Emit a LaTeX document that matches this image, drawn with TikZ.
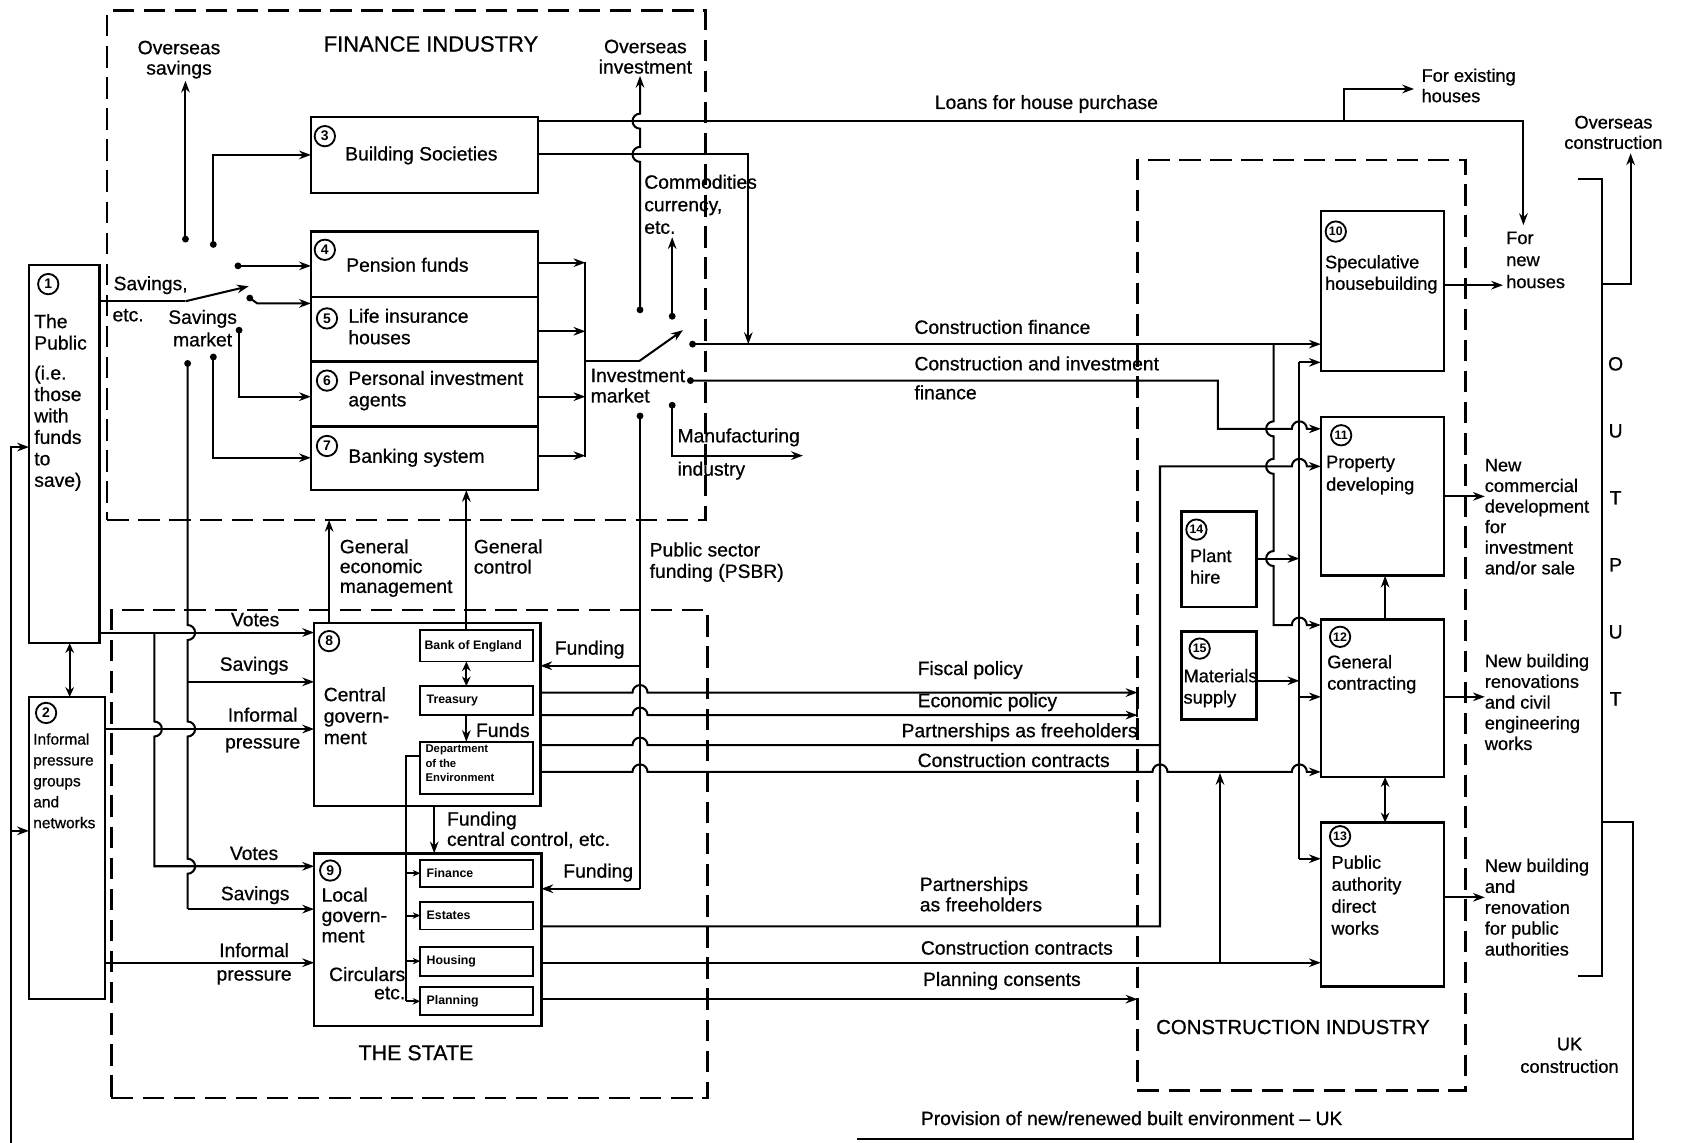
\documentclass[tikz,border=0pt]{standalone}
\usepackage{fontspec}
\setmainfont{Liberation Sans}[UprightFeatures={FakeBold=0.7}]
\usetikzlibrary{arrows.meta}
\begin{document}
\begin{tikzpicture}[x=1pt,y=-1pt,
  every node/.style={inner sep=0pt,outer sep=0pt,font=\fontsize{18}{20}\selectfont},
  box/.style={draw,line width=2.3pt,anchor=north west},
  dbox/.style={draw,line width=2.3pt,dash pattern=on 20pt off 9pt,anchor=north west},
  ibox/.style={draw,line width=1.8pt,anchor=north west,minimum width=105pt},
  conn/.style={line width=1.9pt},
  arr/.style={line width=1.9pt,-{Stealth[length=11pt,width=8pt]}},
  sarr/.style={line width=1.8pt,-{Stealth[length=7pt,width=6pt]}},
  darr/.style={line width=1.9pt,{Stealth[length=9pt,width=8pt]}-{Stealth[length=9pt,width=8pt]}},
  num/.style={circle,draw,line width=1.7pt,minimum size=19pt,font=\fontsize{13}{13}\selectfont\bfseries},
  lab/.style={anchor=west},
  mlab/.style={anchor=north west,align=left},
  clab/.style={anchor=north,align=center},
  tinyb/.style={anchor=west,font=\fontsize{11.5}{13}\selectfont\bfseries},
  boxtxt/.style={anchor=north west,align=left,font=\fontsize{17}{20}\selectfont},
]
\fill[white] (0,0) rectangle (1568,1066);
\useasboundingbox (0,0) rectangle (1568,1066);

% ---------- dashed frames ----------
\node[dbox,minimum width=558pt,minimum height=475pt] (fin) at (100,10) {};
\node[dbox,minimum width=556pt,minimum height=455pt] (sta) at (104,569) {};
\node[dbox,minimum width=306pt,minimum height=868pt] (con) at (1061,149) {};
\node[font=\fontsize{20.5}{22}\selectfont] (tfin) at (402,41) {FINANCE INDUSTRY};
\node[font=\fontsize{20}{22}\selectfont] (tsta) at (388,982) {THE STATE};
\node[font=\fontsize{19}{22}\selectfont] (tcon) at (1206,958) {CONSTRUCTION INDUSTRY};

% ---------- boxes ----------
\node[box,minimum width=66pt,minimum height=353pt] (b1) at (27,247) {};
\node[box,minimum width=71pt,minimum height=282pt] (b2) at (27,650) {};
\node[box,minimum width=212pt,minimum height=71pt] (b3) at (290,109) {};
\node[box,minimum width=212pt,minimum height=61pt] (b4) at (290,216) {};
\node[box,minimum width=212pt,minimum height=60pt] (b5) at (290,277) {};
\node[box,minimum width=212pt,minimum height=61pt] (b6) at (290,337) {};
\node[box,minimum width=212pt,minimum height=59pt] (b7) at (290,398) {};
\node[box,minimum width=211pt,minimum height=171pt] (b8) at (293,581) {};
\node[ibox,minimum height=29pt] (boe) at (392,588) {};
\node[ibox,minimum height=27pt] (tre) at (392,640) {};
\node[ibox,minimum height=49pt] (doe) at (392,692) {};
\node[box,minimum width=212pt,minimum height=161pt] (b9) at (293,796) {};
\node[ibox,minimum height=25pt] (fnc) at (392,802) {};
\node[ibox,minimum height=26pt] (est) at (392,841) {};
\node[ibox,minimum height=27pt] (hou) at (392,883) {};
\node[ibox,minimum height=26pt] (pla) at (392,921) {};
\node[box,minimum width=115pt,minimum height=149pt] (b10) at (1232,197) {};
\node[box,minimum width=115pt,minimum height=148pt] (b11) at (1232,389) {};
\node[box,minimum width=115pt,minimum height=147pt] (b12) at (1232,578) {};
\node[box,minimum width=115pt,minimum height=153pt] (b13) at (1232,767) {};
\node[box,minimum width=70pt,minimum height=89pt] (b14) at (1102,477) {};
\node[box,minimum width=70pt,minimum height=82pt] (b15) at (1102,589) {};

% ---------- numbers ----------
\node[num] (n1) at (45,265) {1};
\node[num] (n2) at (43,665) {2};
\node[num] (n3) at (303,127) {3};
\node[num] (n4) at (303,233) {4};
\node[num] (n5) at (305,297) {5};
\node[num] (n6) at (305,355) {6};
\node[num] (n7) at (305,416) {7};
\node[num] (n8) at (307,598) {8};
\node[num] (n9) at (308,812) {9};
\node[num,font=\fontsize{11.5}{12}\selectfont\bfseries] (n10) at (1246,216) {10};
\node[num,font=\fontsize{11.5}{12}\selectfont\bfseries] (n11) at (1251,406) {11};
\node[num,font=\fontsize{11.5}{12}\selectfont\bfseries] (n12) at (1250,594) {12};
\node[num,font=\fontsize{11.5}{12}\selectfont\bfseries] (n13) at (1250,780) {13};
\node[num,font=\fontsize{11.5}{12}\selectfont\bfseries] (n14) at (1116,494) {14};
\node[num,font=\fontsize{11.5}{12}\selectfont\bfseries] (n15) at (1119,605) {15};

% ---------- box texts ----------
\node[mlab] (tb1) at (32,293) {The\\Public\\[8pt](i.e.\\those\\with\\funds\\to\\save)};
\node[mlab,font=\fontsize{14.5}{19.5}\selectfont] (tb2) at (31,684) {Informal\\pressure\\groups\\and\\networks};
\node[lab] (tb3) at (322,145) {Building Societies};
\node[lab] (tb4) at (323,247) {Pension funds};
\node[mlab] (tb5) at (325,288) {Life insurance\\houses};
\node[mlab] (tb6) at (325,346) {Personal investment\\agents};
\node[lab] (tb7) at (325,427) {Banking system};
\node[mlab] (tb8) at (302,641) {Central\\govern-\\ment};
\node[mlab,font=\fontsize{18}{19}\selectfont] (tb9) at (300,828) {Local\\govern-\\ment};
\node[tinyb] (tboe) at (396,602.5) {Bank of England};
\node[tinyb] (ttre) at (398,653.5) {Treasury};
\node[anchor=north west,align=left,font=\fontsize{10.5}{13.5}\selectfont\bfseries] (tdoe) at (397,695) {Department\\of the\\Environment};
\node[tinyb] (tfnc) at (398,814.5) {Finance};
\node[tinyb] (test) at (398,854) {Estates};
\node[tinyb] (thou) at (398,896.5) {Housing};
\node[tinyb] (tpla) at (398,934) {Planning};
\node[anchor=north east,align=right,font=\fontsize{18}{17}\selectfont] (tcirc) at (378,902) {Circulars\\etc.};
\node[boxtxt] (tb10) at (1236,238) {Speculative\\housebuilding};
\node[boxtxt,font=\fontsize{17}{21}\selectfont] (tb11) at (1237,425) {Property\\developing};
\node[boxtxt] (tb12) at (1238,611) {General\\contracting};
\node[boxtxt,font=\fontsize{17}{20.5}\selectfont] (tb13) at (1242,798) {Public\\authority\\direct\\works};
\node[boxtxt] (tb14) at (1110,512) {Plant\\hire};
\node[boxtxt] (tb15) at (1104,624) {Materials\\supply};

% ---------- labels ----------
\node[clab,font=\fontsize{18}{19}\selectfont] (tos) at (167,38) {Overseas\\savings};
\node[clab,font=\fontsize{18}{19}\selectfont] (toi) at (602,37) {Overseas\\investment};
\node[mlab,font=\fontsize{18}{21}\selectfont] (tco) at (601,163) {Commodities\\currency,\\etc.};
\node[lab] (tsv) at (106,266) {Savings,};
\node[lab] (tetc) at (105,294) {etc.};
\node[clab,font=\fontsize{18}{21}\selectfont] (tsm) at (189,289) {Savings\\market};
\node[mlab,font=\fontsize{18}{19}\selectfont] (tim) at (551,344) {Investment\\market};
\node[lab] (tma) at (632,408) {Manufacturing};
\node[lab] (tind) at (632,439) {industry};
\node[mlab] (tps) at (606,506) {Public sector\\funding (PSBR)};
\node[mlab,font=\fontsize{18}{18.5}\selectfont] (tgem) at (317,503) {General\\economic\\management};
\node[mlab,font=\fontsize{18}{19}\selectfont] (tgc) at (442,503) {General\\control};
\node (tvo1) at (238,578) {Votes};
\node (tsa1) at (237,621) {Savings};
\node[align=center,font=\fontsize{18}{25}\selectfont] (tin1) at (245,681) {Informal\\pressure};
\node (tvo2) at (237,796) {Votes};
\node (tsa2) at (238,835) {Savings};
\node[align=center,font=\fontsize{18}{22}\selectfont] (tin2) at (237,899) {Informal\\pressure};
\node[lab] (tfu) at (444,681) {Funds};
\node (tfd1) at (550,606) {Funding};
\node (tfd2) at (558,814) {Funding};
\node[mlab,font=\fontsize{18}{19}\selectfont] (tfcc) at (417,757) {Funding\\central control, etc.};
\node[lab] (tlo) at (872,97) {Loans for house purchase};
\node[lab] (tcf) at (853,305) {Construction finance};
\node[lab] (tci1) at (853,339) {Construction and investment};
\node[lab] (tci2) at (853,366) {finance};
\node[lab] (tfi) at (856,625) {Fiscal policy};
\node[lab] (tec) at (856,655) {Economic policy};
\node[lab] (tpf) at (841,683) {Partnerships as freeholders};
\node[lab] (tcc) at (856,709) {Construction contracts};
\node[mlab,font=\fontsize{18}{19}\selectfont] (tpf2) at (858,818) {Partnerships\\as freeholders};
\node[lab] (tcc2) at (859,884) {Construction contracts};
\node[lab] (tpc) at (861,915) {Planning consents};
\node[mlab,font=\fontsize{17}{19}\selectfont] (tfe) at (1326,64) {For existing\\houses};
\node[mlab,font=\fontsize{17}{20.5}\selectfont] (tnh) at (1405,216) {For\\new\\houses};
\node[clab,font=\fontsize{17}{19}\selectfont] (toc) at (1505,108) {Overseas\\construction};
\node[clab,font=\fontsize{18}{62.5}\selectfont] (tout) at (1507,333) {O\\U\\T\\P\\U\\T};
\node[mlab,font=\fontsize{17}{19.2}\selectfont] (tnc) at (1385,428) {New\\commercial\\development\\for\\investment\\and/or sale};
\node[mlab,font=\fontsize{17}{19.3}\selectfont] (tnb) at (1385,610) {New building\\renovations\\and civil\\engineering\\works};
\node[mlab,font=\fontsize{17}{19.5}\selectfont] (tnp) at (1385,801) {New building\\and\\renovation\\for public\\authorities};
\node[clab,font=\fontsize{17}{21}\selectfont] (tuk) at (1464,968) {UK\\construction};
\node[lab] (tpr) at (859,1043) {Provision of new/renewed built environment -- UK};

% ---------- switch contacts (dots) ----------
\coordinate (sp) at (173,281);
\coordinate (dos) at (173,223);
\coordinate (dbs) at (199,228);
\coordinate (dpf) at (222,248);
\coordinate (dli) at (233,278);
\coordinate (dpi) at (223,308);
\coordinate (dbk) at (199,333);
\coordinate (dst) at (175,339);
\coordinate (piv) at (596,337);
\coordinate (doi) at (597,289);
\coordinate (dco) at (627,295);
\coordinate (dcf) at (646,321);
\coordinate (dci) at (644,355);
\coordinate (dmi) at (627,378);
\coordinate (dps) at (597,388);
\foreach \d in {dos,dbs,dpf,dli,dpi,dbk,dst,doi,dco,dcf,dci,dmi,dps}
  \fill (\d) circle[radius=3.2];

% ---------- left side ----------
\coordinate (lb) at (10,1066);
\draw[arr] (lb) -- (10,417) -- (b1.west |- 0,417);
\draw[arr] (10,775) -- (b2.west |- 0,775);
\draw[darr] (b1.south -| 65,0) -- (b2.north -| 65,0);

% ---------- savings market ----------
\draw[conn] (b1.east |- sp) -- (sp);
\draw[arr] (sp) -- (232,267);
\draw[arr,shorten >=2pt] (dos) -- (dos |- tos.south);
\draw[arr] (dbs) -- (dbs |- b3.west) -- (b3.west);
\draw[arr] (dpf) -- (b4.west |- dpf);
\draw[arr] (dli) -- (240,283) -- (b5.west |- 0,283);
\draw[arr] (dpi) -- (223,370) -- (b6.west |- 0,370);
\draw[arr] (dbk) -- (199,427) -- (b7.west |- 0,427);

% savings to the state
\draw[conn] (dst) -- (175,583) arc[start angle=-90,end angle=90,radius=7]
  -- (175,673) arc[start angle=-90,end angle=90,radius=7]
  -- (175,801) arc[start angle=-90,end angle=90,radius=7]
  -- (175,848) coordinate (sv9);
\draw[arr] (sv9) -- (b9.west |- sv9);
\draw[arr] (175,636) -- (b8.west |- 0,636);

% votes and informal pressure
\draw[arr] (b1.east |- 0,590) -- (b8.west |- 0,590);
\draw[arr] (144,590) -- (144,673) arc[start angle=-90,end angle=90,radius=7] -- (144,808) -- (b9.west |- 0,808);
\draw[arr] (b2.east |- 0,680) -- (b8.west |- 0,680);
\draw[arr] (b2.east |- 0,898) -- (b9.west |- 0,898);

% ---------- state internals ----------
\draw[arr] (b8.north -| 307,0) -- (fin.south -| 307,0);
\draw[arr] (boe.north -| 435,0) -- (b7.south -| 435,0);
\draw[darr] (boe.south -| 435,0) -- (tre.north -| 435,0);
\draw[arr] (tre.south -| 435,0) -- (doe.north -| 435,0);
\draw[arr] (b8.south -| 405,0) -- (b9.north -| 405,0);
\coordinate (dv) at (379,705);
\draw[conn] (doe.west |- dv) -- (dv) -- (379,934);
\foreach \b in {fnc,est,hou,pla} \draw[sarr] (dv |- \b.west) -- (\b.west);

% PSBR
\draw[conn] (dps) -- (597,829);
\draw[arr] (597,621) -- (b8.east |- 0,621);
\draw[arr] (597,829) -- (b9.east |- 0,829);

% central government to construction industry
\draw[arr] (b8.east |- 0,646) -- (590,646) arc[start angle=180,end angle=360,radius=7] -- (con.west |- 0,646);
\draw[arr] (b8.east |- 0,667) -- (590,667) arc[start angle=180,end angle=360,radius=7] -- (con.west |- 0,667);
\draw[conn] (con.west |- 0,644) -- (con.west |- 0,669);
\draw[conn] (b8.east |- 0,695) -- (590,695) arc[start angle=180,end angle=360,radius=7] -- (1082,695);
\draw[arr] (b8.east |- 0,720) -- (590,720) arc[start angle=180,end angle=360,radius=7]
  -- (1075,720) arc[start angle=180,end angle=360,radius=7]
  -- (1205,720) arc[start angle=180,end angle=360,radius=7] -- (b12.west |- 0,720);

% local government to construction industry
\draw[arr] (b9.east |- 0,864) -- (1082,864) -- (1082,435) -- (1205,435)
  arc[start angle=180,end angle=360,radius=7] -- (b11.west |- 0,435);
\draw[arr] (b9.east |- 0,898) -- (b13.west |- 0,898);
\draw[arr,shorten >=1pt] (1138,898) -- (1138,720);
\draw[arr] (b9.east |- 0,932) -- (con.west |- 0,932);

% ---------- finance outputs ----------
\draw[arr] (b4.east |- 0,245) -- (546,245);
\draw[arr] (b5.east |- 0,309) -- (546,309);
\draw[arr] (b6.east |- 0,370) -- (546,370);
\draw[arr] (b7.east |- 0,425) -- (546,425);
\draw[conn] (546,244) -- (546,426);
\draw[conn] (546,337) -- (piv);
\draw[arr] (piv) -- (637,308);

\draw[arr,shorten >=2pt] (doi) -- (597,151) arc[start angle=90,end angle=270,radius=7]
  -- (597,120) arc[start angle=90,end angle=270,radius=7] -- (doi |- toi.south);
\draw[arr,shorten >=3pt] (dco) -- (dco |- tco.south);
\draw[arr] (dcf) -- (b10.west |- dcf);
\draw[arr] (b3.east |- 0,144) -- (698,144) -- (698,321);
\draw[arr,shorten >=6pt] (b3.east |- 0,113) -- (1421,113) -- (tnh.north -| 1421,0);
\draw[arr,shorten >=7pt] (1254,113) -- (1254,83) -- (tfe.west |- 0,83);
\draw[arr] (dci) -- (1136,355) -- (1136,400) -- (1205,400)
  arc[start angle=180,end angle=360,radius=7] -- (b11.west |- 0,400);
\coordinate (mfe) at (749,425);
\draw[arr] (dmi) -- (627,425) -- (mfe);

% ---------- construction industry internals ----------
\draw[arr] (1188,321) -- (1188,393) arc[start angle=270,end angle=90,radius=7]
  -- (1188,428) arc[start angle=270,end angle=90,radius=7]
  -- (1188,514) arc[start angle=270,end angle=90,radius=7]
  -- (1188,583) -- (1205,583) arc[start angle=180,end angle=360,radius=7] -- (b12.west |- 0,583);
\draw[arr] (b14.east |- 0,521) -- (1212,521);
\draw[arr] (b15.east |- 0,635) -- (1212,635);
\draw[conn] (1212,338) -- (1212,801);
\draw[arr] (1212,338) -- (b10.west |- 0,338);
\draw[arr] (1212,650) -- (b12.west |- 0,650);
\draw[arr] (1212,801) -- (b13.west |- 0,801);
\draw[arr] (b12.north -| 1292,0) -- (b11.south -| 1292,0);
\draw[darr] (b12.south -| 1292,0) -- (b13.north -| 1292,0);

% outputs
\draw[arr,shorten >=3pt] (b10.east |- 0,266) -- (tnh.west |- 0,266);
\draw[arr] (b11.east |- 0,463) -- (tnc.west |- 0,463);
\draw[arr] (b12.east |- 0,650) -- (tnb.west |- 0,650);
\draw[arr] (b13.east |- 0,837) -- (tnp.west |- 0,837);

% output bracket
\draw[conn] (1472,167) -- (1494,167) -- (1494,910) -- (1472,910);
\draw[arr,shorten >=4pt] (1494,265) -- (1521,265) -- (toc.south -| 1521,0);
\coordinate (pe) at (799,1062);
\draw[conn] (1494,767) -- (1523,767) -- (1523,1062) -- (pe);
\end{tikzpicture}
\end{document}
